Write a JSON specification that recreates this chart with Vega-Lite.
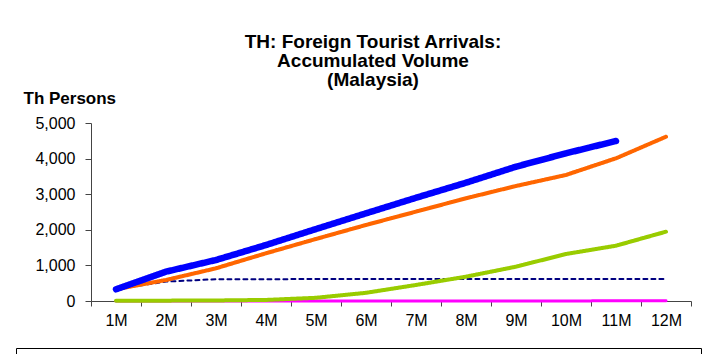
{
  "$schema": "https://vega.github.io/schema/vega-lite/v6.json",
  "width": 600,
  "height": 178,
  "autosize": {"type": "none"},
  "padding": {"left": 91, "top": 123, "right": 13, "bottom": 53},
  "background": "white",
  "title": {
    "text": ["TH: Foreign Tourist Arrivals:", "Accumulated Volume", "(Malaysia)"],
    "font": "Liberation Sans",
    "fontSize": 19,
    "fontWeight": "bold",
    "color": "black",
    "anchor": "middle",
    "frame": "group",
    "dx": -18,
    "dy": 51,
    "baseline": "alphabetic",
    "offset": 35,
    "lineHeight": 19
  },
  "data": {
    "values": [
      {"year": "2020", "month": "1M", "value": 335},
      {"year": "2020", "month": "2M", "value": 545},
      {"year": "2020", "month": "3M", "value": 612},
      {"year": "2020", "month": "4M", "value": 614},
      {"year": "2020", "month": "5M", "value": 615},
      {"year": "2020", "month": "6M", "value": 616},
      {"year": "2020", "month": "7M", "value": 617},
      {"year": "2020", "month": "8M", "value": 617},
      {"year": "2020", "month": "9M", "value": 618},
      {"year": "2020", "month": "10M", "value": 618},
      {"year": "2020", "month": "11M", "value": 619},
      {"year": "2020", "month": "12M", "value": 620},
      {"year": "2021", "month": "1M", "value": 0},
      {"year": "2021", "month": "2M", "value": 0},
      {"year": "2021", "month": "3M", "value": 1},
      {"year": "2021", "month": "4M", "value": 1},
      {"year": "2021", "month": "5M", "value": 1},
      {"year": "2021", "month": "6M", "value": 2},
      {"year": "2021", "month": "7M", "value": 2},
      {"year": "2021", "month": "8M", "value": 2},
      {"year": "2021", "month": "9M", "value": 3},
      {"year": "2021", "month": "10M", "value": 3},
      {"year": "2021", "month": "11M", "value": 4},
      {"year": "2021", "month": "12M", "value": 6},
      {"year": "2022", "month": "1M", "value": 5},
      {"year": "2022", "month": "2M", "value": 10},
      {"year": "2022", "month": "3M", "value": 15},
      {"year": "2022", "month": "4M", "value": 30},
      {"year": "2022", "month": "5M", "value": 90},
      {"year": "2022", "month": "6M", "value": 230},
      {"year": "2022", "month": "7M", "value": 450},
      {"year": "2022", "month": "8M", "value": 683},
      {"year": "2022", "month": "9M", "value": 964},
      {"year": "2022", "month": "10M", "value": 1320},
      {"year": "2022", "month": "11M", "value": 1553},
      {"year": "2022", "month": "12M", "value": 1947},
      {"year": "2023", "month": "1M", "value": 330},
      {"year": "2023", "month": "2M", "value": 590},
      {"year": "2023", "month": "3M", "value": 918},
      {"year": "2023", "month": "4M", "value": 1340},
      {"year": "2023", "month": "5M", "value": 1742},
      {"year": "2023", "month": "6M", "value": 2135},
      {"year": "2023", "month": "7M", "value": 2510},
      {"year": "2023", "month": "8M", "value": 2885},
      {"year": "2023", "month": "9M", "value": 3230},
      {"year": "2023", "month": "10M", "value": 3540},
      {"year": "2023", "month": "11M", "value": 4008},
      {"year": "2023", "month": "12M", "value": 4615},
      {"year": "2024", "month": "1M", "value": 329},
      {"year": "2024", "month": "2M", "value": 824},
      {"year": "2024", "month": "3M", "value": 1152},
      {"year": "2024", "month": "4M", "value": 1573},
      {"year": "2024", "month": "5M", "value": 2022},
      {"year": "2024", "month": "6M", "value": 2463},
      {"year": "2024", "month": "7M", "value": 2900},
      {"year": "2024", "month": "8M", "value": 3323},
      {"year": "2024", "month": "9M", "value": 3773},
      {"year": "2024", "month": "10M", "value": 4149},
      {"year": "2024", "month": "11M", "value": 4494}
    ]
  },
  "mark": {"type": "line", "strokeCap": "round", "strokeJoin": "round"},
  "encoding": {
    "x": {
      "field": "month",
      "type": "ordinal",
      "sort": ["1M", "2M", "3M", "4M", "5M", "6M", "7M", "8M", "9M", "10M", "11M", "12M"],
      "bandPosition": 0.5,
      "scale": {"type": "band", "paddingInner": 0, "paddingOuter": 0},
      "axis": {
        "title": null,
        "labelAngle": 0,
        "labelFont": "Liberation Sans",
        "labelFontSize": 16,
        "labelColor": "black",
        "labelPadding": 6,
        "tickBand": "extent",
        "tickSize": 5,
        "tickColor": "#444444",
        "domainColor": "#444444",
        "grid": false
      }
    },
    "y": {
      "field": "value",
      "type": "quantitative",
      "scale": {"domain": [0, 5000], "nice": false},
      "axis": {
        "values": [0, 1000, 2000, 3000, 4000, 5000],
        "format": ",.0f",
        "title": "Th Persons",
        "titleAngle": 0,
        "titleAlign": "left",
        "titleBaseline": "alphabetic",
        "titleX": -68,
        "titleY": -20,
        "titleFont": "Liberation Sans",
        "titleFontSize": 17,
        "titleFontWeight": "bold",
        "titleColor": "black",
        "labelFont": "Liberation Sans",
        "labelFontSize": 16,
        "labelColor": "black",
        "labelPadding": 10,
        "tickSize": 6,
        "tickColor": "#444444",
        "domainColor": "#444444",
        "grid": false
      }
    },
    "color": {
      "field": "year",
      "type": "nominal",
      "scale": {
        "domain": ["2020", "2021", "2022", "2023", "2024"],
        "range": ["#000080", "#FF00FF", "#99CC00", "#FF6600", "#0000FF"]
      },
      "legend": {
        "orient": "none",
        "legendX": -75,
        "legendY": 225,
        "direction": "horizontal",
        "title": " ",
        "titleOrient": "left",
        "titlePadding": 70,
        "titleFontSize": 16,
        "padding": 3,
        "strokeColor": "black",
        "fillColor": "white",
        "symbolType": "stroke",
        "symbolSize": 289,
        "symbolStrokeWidth": 3,
        "labelFont": "Liberation Sans",
        "labelFontSize": 16,
        "labelColor": "black",
        "labelOffset": 8,
        "columnPadding": 43,
        "labelExpr": "datum.label + '\u00a0\u2800'"
      }
    },
    "strokeDash": {
      "field": "year",
      "type": "nominal",
      "scale": {
        "domain": ["2020", "2021", "2022", "2023", "2024"],
        "range": [[4, 4], [1, 0], [1, 0], [1, 0], [1, 0]]
      },
      "legend": null
    },
    "strokeWidth": {
      "field": "year",
      "type": "ordinal",
      "scale": {
        "type": "ordinal",
        "domain": ["2020", "2021", "2022", "2023", "2024"],
        "range": [2, 3, 4, 4, 6.5]
      },
      "legend": null
    }
  },
  "config": {
    "view": {"stroke": null}
  }
}
